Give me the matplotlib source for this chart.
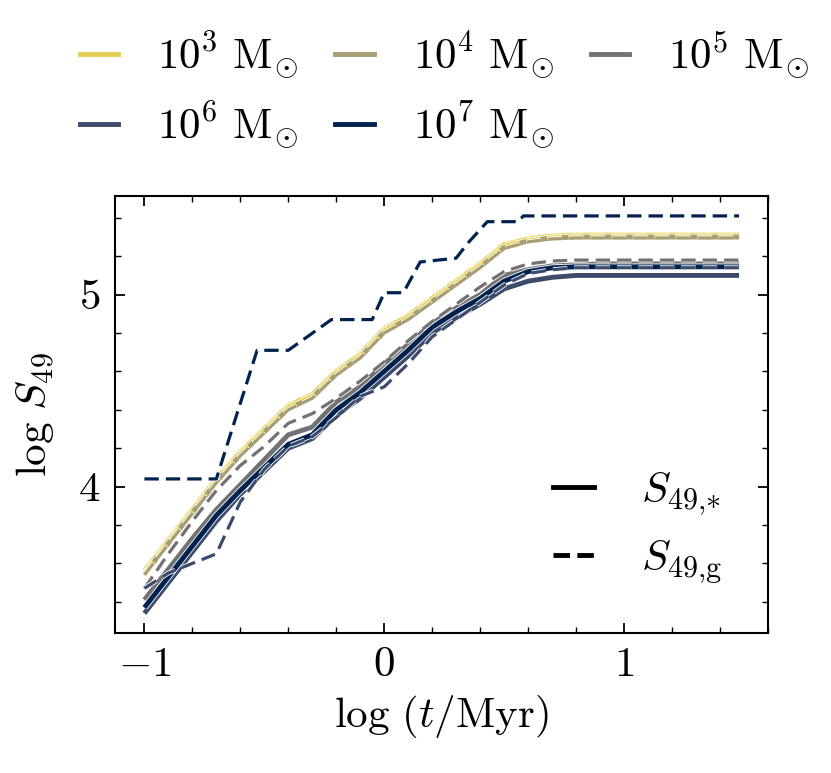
import matplotlib
matplotlib.use("Agg")
import matplotlib.pyplot as plt
import matplotlib.patheffects as pe
from matplotlib.lines import Line2D
from matplotlib.ticker import MultipleLocator
import numpy as np

plt.rcParams["font.family"] = "serif"
plt.rcParams["font.serif"] = ["cmr10"]
plt.rcParams["mathtext.fontset"] = "cm"
plt.rcParams["axes.formatter.use_mathtext"] = True

# log(t/Myr) grid shared by most curves
logt = [-1.0, -0.9, -0.8, -0.7, -0.6, -0.5, -0.4, -0.3, -0.2, -0.1, 0.0,
        0.1, 0.2, 0.3, 0.4, 0.5, 0.6, 0.7, 0.8, 0.9, 1.0, 1.2, 1.48]

masses = ["3", "4", "5", "6", "7"]

# S49,* (stellar) per cluster mass
s_star = {
    "3": [3.56, 3.72, 3.88, 4.04, 4.18, 4.30, 4.42, 4.48, 4.60, 4.69, 4.82,
          4.89, 4.98, 5.07, 5.16, 5.26, 5.29, 5.305, 5.31, 5.31, 5.31, 5.31, 5.31],
    "4": [3.545, 3.705, 3.865, 4.025, 4.165, 4.285, 4.405, 4.465, 4.585, 4.675, 4.805,
          4.875, 4.965, 5.055, 5.145, 5.245, 5.28, 5.295, 5.30, 5.30, 5.30, 5.30, 5.30],
    "5": [3.41, 3.57, 3.73, 3.88, 4.01, 4.14, 4.27, 4.31, 4.44, 4.52, 4.64,
          4.74, 4.85, 4.93, 5.00, 5.10, 5.13, 5.15, 5.155, 5.16, 5.16, 5.16, 5.16],
    "6": [3.34, 3.50, 3.66, 3.82, 3.96, 4.08, 4.20, 4.25, 4.37, 4.46, 4.57,
          4.68, 4.80, 4.88, 4.95, 5.03, 5.07, 5.09, 5.10, 5.10, 5.10, 5.10, 5.10],
    "7": [3.37, 3.53, 3.69, 3.85, 3.98, 4.10, 4.22, 4.27, 4.40, 4.49, 4.60,
          4.71, 4.83, 4.91, 4.98, 5.07, 5.12, 5.14, 5.145, 5.145, 5.145, 5.145, 5.145],
}

# S49,g (gas) per cluster mass
s_gas = {
    "3": [3.55, 3.715, 3.875, 4.035, 4.175, 4.295, 4.415, 4.475, 4.595, 4.685, 4.815,
          4.885, 4.975, 5.065, 5.155, 5.255, 5.285, 5.30, 5.305, 5.305, 5.305, 5.305, 5.305],
    "4": [3.54, 3.70, 3.86, 4.02, 4.16, 4.28, 4.40, 4.46, 4.58, 4.67, 4.80,
          4.87, 4.96, 5.05, 5.14, 5.24, 5.275, 5.29, 5.295, 5.295, 5.295, 5.295, 5.295],
    "5": [3.47, 3.65, 3.82, 3.98, 4.11, 4.21, 4.33, 4.38, 4.46, 4.55, 4.65,
          4.76, 4.86, 4.95, 5.04, 5.12, 5.16, 5.175, 5.18, 5.18, 5.18, 5.18, 5.18],
    "6": [3.47, 3.55, 3.60, 3.65, 3.92, 4.09, 4.21, 4.26, 4.36, 4.47, 4.52,
          4.64, 4.78, 4.87, 4.96, 5.05, 5.11, 5.13, 5.14, 5.14, 5.14, 5.14, 5.14],
}

# the 10^7 gas curve is step-like, sampled on its own points
logt_g7 = [-1.0, -0.70, -0.53, -0.40, -0.22, -0.05, 0.0, 0.08, 0.15, 0.30,
           0.35, 0.43, 0.56, 0.58, 1.48]
s_gas_7 = [4.04, 4.04, 4.71, 4.71, 4.87, 4.87, 5.01, 5.01, 5.17, 5.19,
           5.27, 5.38, 5.38, 5.41, 5.41]

colors = plt.cm.cividis(np.linspace(0.9, 0.0, 5))
col = dict(zip(masses, colors))

FS = 31
LW_S = 3.5
LW_D = 2.3
DASH = (0, (4.5, 2.2))

fig = plt.figure(figsize=(8.31, 7.73), dpi=100)
ax = fig.add_axes([0.138, 0.181, 0.786, 0.566])

def outline(lw):
    return [pe.Stroke(linewidth=lw + 1.2, foreground="white"), pe.Normal()]

for m in masses:
    ax.plot(logt, s_star[m], color=col[m], lw=LW_S, solid_capstyle="butt",
            path_effects=outline(LW_S), zorder=3)
for m in masses[:4]:
    ax.plot(logt, s_gas[m], color=col[m], lw=LW_D, ls=DASH,
            path_effects=outline(LW_D), zorder=3)
ax.plot(logt_g7, s_gas_7, color=col["7"], lw=LW_D, ls=DASH,
        path_effects=outline(LW_D), zorder=3)

ax.set_xlim(-1.124, 1.60)
ax.set_ylim(3.237, 5.516)
ax.xaxis.set_major_locator(MultipleLocator(1))
ax.xaxis.set_minor_locator(MultipleLocator(0.2))
ax.yaxis.set_major_locator(MultipleLocator(1))
ax.yaxis.set_minor_locator(MultipleLocator(0.2))
ax.tick_params(which="both", direction="in", top=True, right=True,
               labelsize=FS, pad=10)
ax.tick_params(which="major", length=7, width=1.3)
ax.tick_params(which="minor", length=4, width=1.0)
for sp in ax.spines.values():
    sp.set_linewidth(1.5)

ax.set_xlabel(r"$\log\,(t/\mathrm{Myr})$", fontsize=FS, labelpad=6)
ax.set_ylabel(r"$\log\,S_{49}$", fontsize=FS, labelpad=16)

# line-style legend inside the axes
style_handles = [Line2D([], [], color="black", lw=LW_S, ls="-"),
                 Line2D([], [], color="black", lw=LW_S, ls=(0, (3.4, 1.5)))]
ax.legend(style_handles, [r"$S_{49{,}{*}}$", r"$S_{49{,}\mathrm{g}}$"],
          loc="lower right", frameon=False, fontsize=FS,
          handlelength=0.95, handletextpad=1.1, labelspacing=0.5,
          bbox_to_anchor=(0.99, 0.02))

# mass legend above the axes (column-major order)
order = ["3", "6", "4", "7", "5"]
mass_handles = [Line2D([], [], color=col[m], lw=LW_S) for m in order]
mass_labels = [r"$10^{%s}\ \mathrm{M}_{\!\odot}$" % m for m in order]
fig.legend(mass_handles, mass_labels, ncol=3, loc="upper center",
           bbox_to_anchor=(0.535, 1.012), frameon=False, fontsize=FS,
           handlelength=0.9, handletextpad=0.9, columnspacing=0.85,
           labelspacing=0.4)

fig.savefig("out.png", dpi=100)
